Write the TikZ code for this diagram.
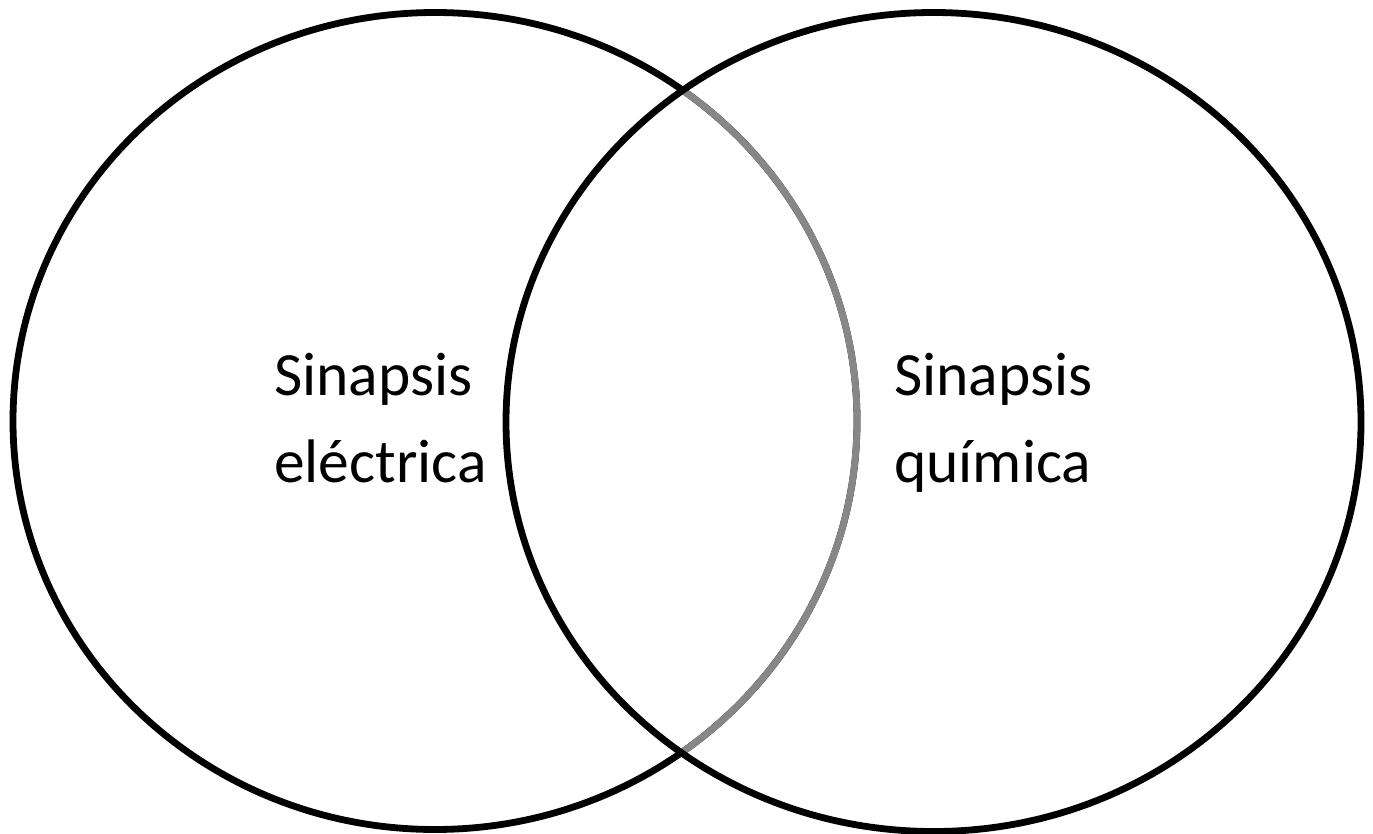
\documentclass[tikz,border=0pt]{standalone}
\usepackage{fontspec}
\setmainfont{Carlito}
\begin{document}
\begin{tikzpicture}[x=1pt,y=-1pt,
  ring/.style={line width=6.8pt},
  lbl/.style={anchor=base west,inner sep=0pt,font=\fontsize{61.5}{87}\selectfont}]
\useasboundingbox[fill=white] (0,0) rectangle (1373,834);
\draw[ring,black] (435,421) ellipse [x radius=422,y radius=408.5];
\begin{scope}
  \clip (933.5,422) ellipse [x radius=427.5,y radius=409.5];
  \draw[ring,gray!95!black!90] (435,421) ellipse [x radius=422,y radius=408.5];
\end{scope}
\draw[ring,black] (933.5,422) ellipse [x radius=427.5,y radius=409.5];
\node[lbl] (l1) at (274,395) {Sinapsis};
\node[lbl] (l2) at (274,482) {eléctrica};
\node[lbl] (r1) at (894,395) {Sinapsis};
\node[lbl] (r2) at (894,482) {química};
\end{tikzpicture}
\end{document}
